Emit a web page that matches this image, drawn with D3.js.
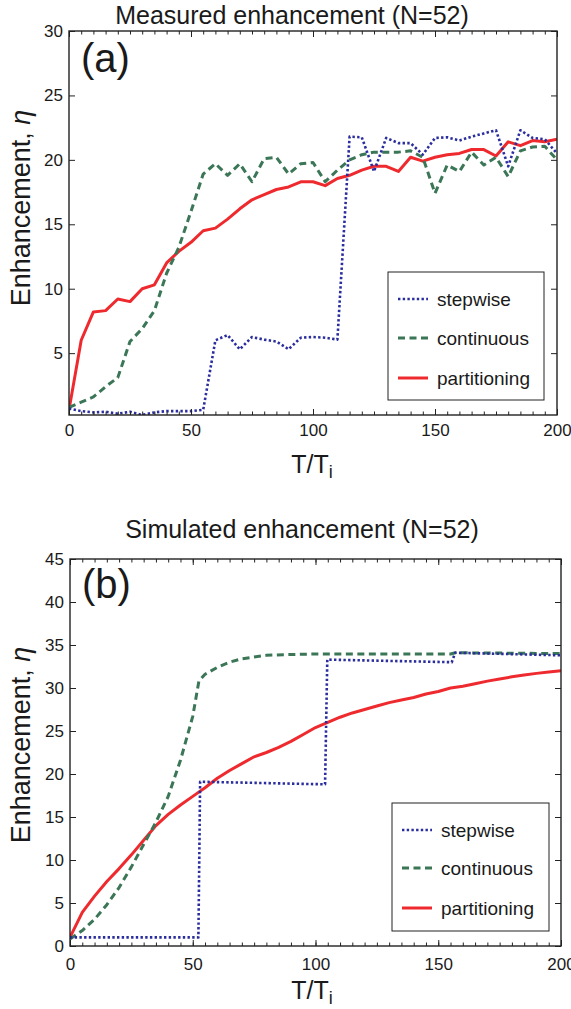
<!DOCTYPE html>
<html>
<head>
<meta charset="utf-8">
<script src="https://cdn.jsdelivr.net/npm/d3@7"></script>
<style>
  body { margin: 0; background: #fff; }
  svg { display: block; font-family: "Liberation Sans", Arial, Helvetica, sans-serif; }
</style>
</head>
<body>
<div id="chart"></div>
<script>
// panel (a): measured, sampled every 5 T/Ti
const tMeasured = [0, 5, 10, 15, 20, 25, 30, 35, 40, 45, 50, 55, 60, 65, 70, 75, 80, 85, 90, 95, 100,
  105, 110, 115, 120, 125, 130, 135, 140, 145, 150, 155, 160, 165, 170, 175, 180, 185, 190, 195, 200];
const stepwiseMeasured = [0.7, 0.5, 0.4, 0.45, 0.3, 0.45, 0.2, 0.4, 0.5, 0.5, 0.5, 0.6, 6.0, 6.4, 5.3, 6.25, 6.05, 5.9, 5.3, 6.2, 6.25,
  6.2, 6.05, 21.8, 21.75, 19.1, 21.7, 21.3, 21.3, 20.4, 21.7, 21.75, 21.5, 21.8, 22.05, 22.3, 19.5, 22.3, 21.7, 21.6, 20.5];
const continuousMeasured = [0.8, 1.2, 1.6, 2.4, 3.1, 5.9, 6.9, 8.3, 11.2, 13.2, 16.0, 18.9, 19.7, 18.8, 19.7, 18.3, 20.1, 20.2, 18.9, 19.7, 19.8,
  18.3, 19.2, 20.0, 20.4, 20.6, 20.6, 20.6, 20.7, 20.2, 17.4, 19.6, 19.1, 20.6, 19.6, 20.2, 18.7, 20.7, 21.0, 21.05, 20.0];
const partitioningMeasured = [0.6, 6.0, 8.2, 8.3, 9.2, 9.0, 10.0, 10.3, 12.0, 12.9, 13.6, 14.5, 14.7, 15.4, 16.2, 16.9, 17.3, 17.7, 17.9, 18.3, 18.3,
  18.0, 18.55, 18.8, 19.2, 19.5, 19.5, 19.1, 20.2, 19.9, 20.2, 20.4, 20.5, 20.8, 20.8, 20.3, 21.4, 21.1, 21.5, 21.4, 21.6];

// panel (b): simulated
const tStepwiseSim = [0, 52.3, 53, 103.9, 104.8, 155.5, 156.9, 200];
const stepwiseSim = [1.0, 1.0, 19.1, 18.8, 33.3, 33.0, 34.1, 33.8];
const tContinuousSim = [0, 5, 10, 15, 20, 25, 30, 35, 40, 45, 50, 52.5, 55, 60, 65, 70, 80, 90, 100, 155, 157, 200];
const continuousSim = [0.8, 1.8, 3.1, 4.8, 6.8, 9.2, 11.8, 14.4, 17.4, 21.6, 26.7, 30.8, 31.6, 32.4, 33.0, 33.4, 33.8, 33.9, 33.95, 33.95, 34.1, 34.0];
const tPartitioningSim = tMeasured;
const partitioningSim = [1.0, 3.9, 5.8, 7.5, 9.0, 10.6, 12.3, 14.0, 15.3, 16.4, 17.4, 18.4, 19.5, 20.4, 21.2, 22.0, 22.5, 23.1, 23.8, 24.6, 25.4,
  26.0, 26.6, 27.1, 27.5, 27.9, 28.3, 28.6, 28.9, 29.3, 29.6, 30.0, 30.2, 30.5, 30.8, 31.05, 31.3, 31.5, 31.7, 31.85, 32.0];

const xTicks = [0, 50, 100, 150, 200];
const xMinorTicks = d3.range(0, 201, 5);
const legendNames = ['stepwise', 'continuous', 'partitioning'];

const styles = {
  stepwise:     {color: '#2a2d9e', width: 2.6, dash: '2.4,2.3'},
  continuous:   {color: '#3b7657', width: 3,   dash: '7,4.5'},
  partitioning: {color: '#ee2a2e', width: 3,   dash: null}
};

const svg = d3.select('#chart').append('svg')
  .attr('width', 571)
  .attr('height', 1009);

svg.append('rect').attr('width', 571).attr('height', 1009).attr('fill', '#fff');

const panels = [
  {
    title: 'Measured enhancement (N=52)', titleX: 292, titleY: 24, tag: '(a)',
    left: 69, right: 557, top: 31, bottom: 415, xPad: 9,
    yDomain: [0.2, 30], yTicks: [5, 10, 15, 20, 25, 30], yLabelY: 208, xLabelY: 473,
    legend: {x: 388, y: 272, w: 156, h: 128, rows: [299, 338, 378]},
    series: [
      {name: 'stepwise', t: tMeasured, v: stepwiseMeasured},
      {name: 'continuous', t: tMeasured, v: continuousMeasured},
      {name: 'partitioning', t: tMeasured, v: partitioningMeasured}
    ]
  },
  {
    title: 'Simulated enhancement (N=52)', titleX: 302, titleY: 538, tag: '(b)',
    left: 70, right: 561, top: 559, bottom: 946, xPad: 12,
    yDomain: [0, 45], yTicks: [0, 5, 10, 15, 20, 25, 30, 35, 40, 45], yLabelY: 745, xLabelY: 999,
    legend: {x: 392, y: 803, w: 157, h: 128, rows: [830, 868, 908]},
    series: [
      {name: 'stepwise', t: tStepwiseSim, v: stepwiseSim},
      {name: 'continuous', t: tContinuousSim, v: continuousSim},
      {name: 'partitioning', t: tPartitioningSim, v: partitioningSim}
    ]
  }
];

panels.forEach(drawPanel);

function drawPanel(p) {
  const x = d3.scaleLinear().domain([0, 200]).range([p.left, p.right]);
  const y = d3.scaleLinear().domain(p.yDomain).range([p.bottom, p.top]);
  const w = p.right - p.left, h = p.bottom - p.top;

  // title
  svg.append('text')
    .attr('x', p.titleX).attr('y', p.titleY)
    .attr('text-anchor', 'middle')
    .style('font-size', '25px').style('fill', '#1a1a1a')
    .text(p.title);

  // lines, clipped to the box
  const clipId = 'clip-' + p.tag.replace(/\W/g, '');
  svg.append('clipPath').attr('id', clipId)
    .append('rect').attr('x', p.left).attr('y', p.top - 2).attr('width', w).attr('height', h + 2);

  const line = d3.line()
    .x(d => x(d[0]))
    .y(d => y(d[1]));

  const g = svg.append('g').attr('clip-path', 'url(#' + clipId + ')');
  // draw order: partitioning under, then continuous, then stepwise on top
  ['partitioning', 'continuous', 'stepwise'].forEach(name => {
    const s = p.series.find(d => d.name === name);
    const st = styles[name];
    g.append('path')
      .datum(s.t.map((t, i) => [t, s.v[i]]))
      .attr('d', line)
      .attr('fill', 'none')
      .attr('stroke', st.color)
      .attr('stroke-width', st.width)
      .attr('stroke-dasharray', st.dash)
      .attr('stroke-linejoin', 'round');
  });

  // axes: ticks point inward, MATLAB style
  const bottomAx = svg.append('g')
    .attr('transform', 'translate(0,' + p.bottom + ')')
    .call(d3.axisBottom(x).tickValues(xTicks).tickSize(-6).tickPadding(p.xPad).tickFormat(d3.format('d')));
  svg.append('g')
    .attr('transform', 'translate(0,' + p.bottom + ')')
    .call(d3.axisBottom(x).tickValues(xMinorTicks).tickSize(-3.5).tickFormat(''));
  svg.append('g')
    .attr('transform', 'translate(0,' + p.top + ')')
    .call(d3.axisTop(x).tickValues(xTicks).tickSize(-6).tickFormat(''));
  svg.append('g')
    .attr('transform', 'translate(0,' + p.top + ')')
    .call(d3.axisTop(x).tickValues(xMinorTicks).tickSize(-3.5).tickFormat(''));
  const leftAx = svg.append('g')
    .attr('transform', 'translate(' + p.left + ',0)')
    .call(d3.axisLeft(y).tickValues(p.yTicks).tickSize(-6).tickPadding(6));
  svg.append('g')
    .attr('transform', 'translate(' + p.right + ',0)')
    .call(d3.axisRight(y).tickValues(p.yTicks).tickSize(-6).tickFormat(''));

  svg.selectAll('.domain').remove();
  svg.selectAll('.tick line').attr('stroke', '#222').attr('stroke-width', 1);
  [bottomAx, leftAx].forEach(a => a.selectAll('text')
    .style('font-size', '17px').style('fill', '#1a1a1a')
    .attr('font-family', null));

  // box
  svg.append('rect')
    .attr('x', p.left).attr('y', p.top).attr('width', w).attr('height', h)
    .attr('fill', 'none').attr('stroke', '#222').attr('stroke-width', 1.4);

  // panel tag
  svg.append('text')
    .attr('x', p.left + 12).attr('y', p.top + (p.tag === '(a)' ? 41 : 39))
    .style('font-size', '40px').style('fill', '#1a1a1a')
    .text(p.tag);

  // y label
  svg.append('text')
    .attr('transform', 'translate(30,' + p.yLabelY + ') rotate(-90)')
    .attr('text-anchor', 'middle')
    .style('font-size', '27px').style('fill', '#1a1a1a')
    .text('Enhancement, ')
    .append('tspan').style('font-style', 'italic').text('η');

  // x label T/Ti
  const xl = svg.append('text')
    .attr('x', 312).attr('y', p.xLabelY)
    .attr('text-anchor', 'middle')
    .style('font-size', '25px').style('fill', '#1a1a1a');
  xl.append('tspan').text('T/T');
  xl.append('tspan').attr('dy', 5).style('font-size', '18px').text('i');

  // legend
  const L = p.legend;
  svg.append('rect')
    .attr('x', L.x).attr('y', L.y).attr('width', L.w).attr('height', L.h)
    .attr('fill', '#fff').attr('stroke', '#222').attr('stroke-width', 1);
  legendNames.forEach((name, i) => {
    const st = styles[name];
    svg.append('line')
      .attr('x1', L.x + 10).attr('x2', L.x + 40)
      .attr('y1', L.rows[i]).attr('y2', L.rows[i])
      .attr('stroke', st.color)
      .attr('stroke-width', st.width)
      .attr('stroke-dasharray', st.dash);
    svg.append('text')
      .attr('x', L.x + 49).attr('y', L.rows[i])
      .attr('dy', '0.35em')
      .style('font-size', '19px').style('fill', '#1a1a1a')
      .text(name);
  });
}
</script>
</body>
</html>
